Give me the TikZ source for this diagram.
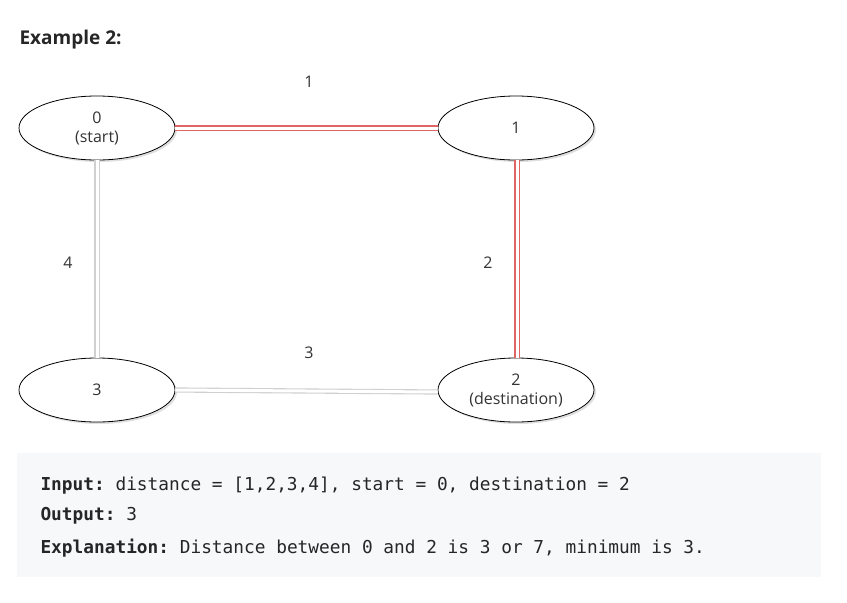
\documentclass[tikz,border=0pt]{standalone}
\usepackage{fontspec}
\setmainfont{Open Sans}
\setmonofont{DejaVu Sans Mono}
\usetikzlibrary{shapes.geometric,shadows}
\definecolor{redline}{HTML}{E06666}
\definecolor{grayline}{HTML}{D0D0D0}
\definecolor{boxbg}{HTML}{F7F8FA}
\begin{document}
\begin{tikzpicture}[x=1pt,y=-1pt,
  vert/.style={ellipse,draw=black,thick,fill=white,minimum width=156pt,minimum height=64pt,inner sep=0pt,font=\fontsize{16}{19}\selectfont,align=center,text=black!80,
    drop shadow={shadow xshift=2pt,shadow yshift=-2pt,opacity=0.25,fill=gray}},
  redge/.style={draw=redline,double=white,double distance=3pt,line width=1.1pt},
  gedge/.style={draw=grayline,double=white,double distance=3pt,line width=1.1pt},
  lbl/.style={font=\fontsize{16}{18}\selectfont,text=black!80},
  code/.style={font=\ttfamily\fontsize{17.8}{20}\selectfont,anchor=west,text=black!85}]
\useasboundingbox (0,0) rectangle (847,603);
\node[anchor=west,font=\bfseries\fontsize{19}{21}\selectfont,text=black!85] (title) at (16,40) {Example 2:};
\node[vert] (n0) at (97,128) {0\\(start)};
\node[vert] (n1) at (516,128) {1};
\node[vert] (n3) at (97,390) {3};
\node[vert] (n2) at (516,390) {2\\(destination)};
\draw[redge] (n0) -- (n1);
\draw[redge] (n1.south) ++(1,0) coordinate (a) -- (a |- n2.north);
\draw[gedge] (n0) -- (n3);
\draw[gedge] (n3.east) -- ([yshift=-2pt]n2.west);
\node[lbl] (l1) at (309,82) {1};
\node[lbl] (l2) at (488,263) {2};
\node[lbl] (l4) at (68,263) {4};
\node[lbl] (l3) at (309,353) {3};
\fill[boxbg] (17,453) rectangle (821,577);
\node[code] (in) at (37,486) {\textbf{Input:} distance = [1,2,3,4], start = 0, destination = 2};
\node[code] (out) at (37,516) {\textbf{Output:} 3};
\node[code] (ex) at (37,548) {\textbf{Explanation:} Distance between 0 and 2 is 3 or 7, minimum is 3.};
\end{tikzpicture}
\end{document}
